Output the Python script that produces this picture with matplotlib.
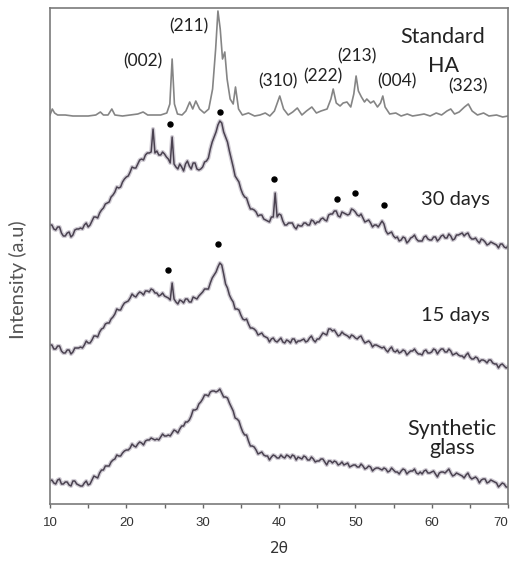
import numpy as np
import matplotlib
matplotlib.use("Agg")
import matplotlib.pyplot as plt

# ---------------- data (intensity in arbitrary units, stacked) ----------------
ha_theta = [10.0, 10.3, 10.6, 11, 12, 13, 14, 15, 16, 16.6, 17.0, 17.6, 18.1, 18.5, 19.5, 20.5, 21.5, 22.2, 22.8, 23.5,
            24.5, 25.3, 25.7, 26.0, 26.3, 26.7, 27.3, 27.8, 28.3, 28.7, 29.1, 29.6, 30.2, 30.8, 31.3, 31.7, 32.0, 32.3, 32.6, 32.9,
            33.2, 33.6, 34.0, 34.3, 34.7, 35.2, 36, 36.8, 37.5, 38.2, 38.8, 39.4, 40.1, 40.6, 41.2, 41.8, 42.4, 43.0, 43.6, 44.3,
            44.9, 45.5, 46.3, 46.8, 47.1, 47.5, 48.0, 48.4, 48.9, 49.4, 49.8, 50.1, 50.4, 50.8, 51.2, 51.5, 52.0, 52.4, 52.9, 53.3,
            53.6, 53.9, 54.5, 55.3, 56.0, 56.8, 57.5, 58.3, 59.0, 59.8, 60.6, 61.3, 62.0, 62.5, 63.0, 63.6, 64.3, 64.8, 65.3, 66.0,
            66.8, 67.5, 68.5, 69.3, 70.0]
ha_int = [389, 395, 391, 389, 389, 388, 388, 388, 389, 392, 389, 389, 395, 389, 388, 389, 390, 392, 389, 389,
          389, 391, 400, 445, 400, 390, 389, 393, 402, 395, 403, 395, 391, 395, 415, 455, 493, 475, 445, 452,
          425, 405, 400, 417, 395, 389, 391, 388, 389, 391, 388, 393, 408, 395, 389, 392, 396, 389, 393, 397,
          391, 393, 395, 405, 415, 401, 398, 401, 402, 397, 410, 428, 413, 407, 402, 405, 401, 403, 397, 401,
          408, 397, 390, 391, 388, 390, 388, 389, 390, 388, 391, 389, 393, 395, 390, 392, 397, 400, 393, 389,
          391, 388, 389, 387, 388]

# 30 days: readings at 10.0, 10.5, ... 70.0 and at 10.25, 10.75, ... 69.75
d30_int = [279, 275, 277, 271, 268, 272, 269, 275, 276, 279, 277, 283, 287, 291, 296, 301, 307, 312, 316, 322,
           327, 332, 336, 340, 345, 349, 351, 375, 353, 349, 350, 345, 367, 337, 340, 333, 343, 335, 341, 334,
           337, 343, 355, 367, 379, 381, 367, 353, 337, 325, 315, 307, 300, 295, 292, 289, 285, 283, 287, 311,
           290, 283, 279, 281, 277, 279, 278, 281, 279, 283, 282, 285, 284, 289, 290, 293, 287, 291, 289, 295,
           292, 288, 286, 283, 281, 279, 277, 283, 273, 271, 268, 267, 264, 266, 263, 267, 265, 263, 267, 265,
           264, 267, 265, 269, 266, 268, 265, 269, 271, 270, 267, 265, 263, 265, 262, 260, 261, 259, 260, 257,
           258]
d30_mid = [279, 274, 277, 268, 271, 267, 274, 275, 275, 281, 279, 287, 286, 294, 300, 302, 309, 317, 317, 325,
           328, 337, 336, 344, 344, 351, 352, 351, 349, 352, 347, 341, 340, 335, 337, 340, 338, 341, 335, 335,
           342, 346, 362, 372, 383, 372, 362, 345, 328, 322, 310, 306, 295, 294, 288, 289, 284, 282, 287, 287,
           289, 279, 281, 281, 275, 278, 281, 279, 284, 280, 282, 286, 283, 290, 293, 288, 292, 290, 290, 294,
           289, 290, 282, 284, 277, 279, 280, 280, 270, 272, 266, 263, 267, 261, 266, 269, 263, 263, 268, 264,
           267, 263, 268, 266, 270, 264, 269, 270, 268, 271, 265, 266, 261, 264, 259, 262, 260, 256, 260, 256]

# 15 days
d15_int = [159, 155, 158, 153, 151, 154, 152, 156, 157, 159, 161, 164, 168, 172, 176, 181, 185, 190, 194, 198,
           202, 206, 208, 210, 211, 213, 212, 214, 211, 209, 208, 206, 221, 202, 204, 201, 205, 202, 206, 208,
           212, 215, 221, 229, 237, 239, 220, 209, 202, 195, 189, 184, 180, 176, 173, 170, 168, 166, 165, 163,
           164, 162, 164, 161, 165, 163, 164, 162, 166, 164, 165, 168, 170, 175, 173, 171, 169, 170, 168, 169,
           166, 167, 164, 162, 161, 159, 158, 156, 154, 155, 153, 154, 152, 153, 151, 153, 152, 150, 153, 151,
           152, 154, 153, 155, 152, 153, 150, 149, 148, 149, 147, 145, 146, 144, 143, 144, 141, 140, 139, 138,
           137]
d15_mid = [159, 155, 158, 151, 154, 150, 156, 156, 156, 163, 161, 168, 167, 175, 180, 181, 187, 195, 194, 201,
           203, 210, 207, 212, 209, 213, 215, 211, 208, 211, 207, 204, 205, 200, 203, 205, 202, 207, 205, 210,
           215, 215, 226, 232, 241, 230, 216, 205, 195, 194, 185, 185, 176, 175, 169, 171, 167, 162, 166, 162,
           166, 161, 163, 165, 161, 163, 165, 163, 168, 162, 165, 171, 169, 175, 174, 168, 172, 169, 166, 168,
           165, 168, 161, 163, 157, 159, 157, 157, 152, 157, 152, 151, 154, 149, 153, 155, 150, 149, 154, 151,
           155, 150, 155, 152, 155, 149, 151, 148, 146, 151, 145, 147, 142, 144, 141, 144, 140, 136, 140, 136]

# Synthetic glass
glass_int = [23, 21, 24, 20, 22, 19, 23, 20, 18, 21, 19, 24, 27, 31, 34, 38, 42, 45, 48, 51,
             54, 56, 58, 60, 61, 63, 64, 65, 65, 67, 68, 69, 71, 73, 75, 78, 82, 88, 94, 100,
             105, 109, 112, 113, 113, 111, 107, 101, 93, 85, 77, 69, 63, 58, 54, 51, 49, 48, 47, 48,
             46, 47, 49, 46, 48, 47, 45, 47, 44, 45, 43, 45, 42, 43, 41, 42, 40, 39, 41, 38,
             39, 37, 38, 36, 37, 35, 36, 34, 35, 33, 34, 32, 33, 34, 32, 33, 31, 32, 33, 31,
             32, 30, 31, 32, 33, 31, 29, 30, 28, 29, 27, 26, 25, 24, 25, 22, 23, 21, 19, 20,
             17]
glass_mid = [24, 20, 25, 20, 22, 18, 23, 19, 18, 23, 20, 28, 26, 34, 38, 38, 44, 49, 48, 53,
             54, 60, 57, 62, 59, 64, 66, 64, 64, 70, 68, 68, 74, 71, 78, 82, 84, 94, 95, 102,
             109, 108, 113, 112, 115, 107, 106, 97, 86, 83, 72, 69, 58, 57, 50, 52, 48, 44, 49, 46,
             49, 46, 48, 49, 44, 46, 48, 44, 47, 42, 43, 45, 39, 43, 43, 39, 42, 40, 37, 39,
             37, 40, 35, 38, 33, 36, 35, 36, 32, 36, 32, 30, 35, 30, 33, 35, 30, 30, 34, 31,
             33, 27, 32, 31, 35, 28, 31, 29, 26, 31, 25, 27, 21, 25, 21, 24, 22, 17, 21, 17]

# HA reflection markers
dots30_theta = [25.7, 32.3, 39.3, 47.6, 50.0, 53.8]
dots30_int = [380, 392, 325, 305, 311, 299]
dots15_theta = [25.5, 32.0]
dots15_int = [234, 260]

hkl_labels = ["(002)", "(211)", "(310)", "(222)", "(213)", "(004)", "(323)"]
hkl_theta = [22.2, 28.2, 39.9, 45.8, 50.2, 55.5, 64.8]
hkl_int = [443, 478, 423, 428, 448, 423, 418]

x_ticks = [10, 20, 30, 40, 50, 60, 70]


def merge(main, mid):
    y = np.empty(len(main) + len(mid))
    y[0::2] = main
    y[1::2] = mid
    return np.linspace(10, 70, len(y)), y


# ---------------- plotting ----------------
W, H = 513, 561
fig = plt.figure(figsize=(W / 100, H / 100), dpi=100)
ax = fig.add_axes([50 / W, (H - 504) / H, 458 / W, 496 / H])

trace_col = "#4a4250"
ax.plot(ha_theta, ha_int, color="#858585", lw=1.2)
for main, mid in ((d30_int, d30_mid), (d15_int, d15_mid), (glass_int, glass_mid)):
    xs, ys = merge(main, mid)
    ax.plot(xs, ys, color="#9a90a2", lw=3.0, alpha=0.45)
    ax.plot(xs, ys, color=trace_col, lw=1.1)

ax.plot(dots30_theta, dots30_int, "o", color="black", ms=3.6)
ax.plot(dots15_theta, dots15_int, "o", color="black", ms=3.6)

lab_font = dict(family="Lato", color="#222222")
for t, x, y in zip(hkl_labels, hkl_theta, hkl_int):
    ax.text(x, y, t, ha="center", va="center", fontsize=12.5, **lab_font)

ax.text(61.5, 467, "Standard", ha="center", va="center", fontsize=15.5, **lab_font)
ax.text(61.5, 438, "HA", ha="center", va="center", fontsize=15.5, **lab_font)
ax.text(63.1, 305, "30 days", ha="center", va="center", fontsize=14.5, **lab_font)
ax.text(63.1, 188, "15 days", ha="center", va="center", fontsize=14.5, **lab_font)
ax.text(62.7, 75, "Synthetic", ha="center", va="center", fontsize=15.5, **lab_font)
ax.text(62.7, 56, "glass", ha="center", va="center", fontsize=15.5, **lab_font)

ax.set_xlim(10, 70)
ax.set_ylim(0, 496)
ax.set_xticks(x_ticks)
ax.set_xticks([15, 25, 35, 45, 55, 65], minor=True)
ax.set_yticks([])
ax.tick_params(axis="x", which="both", direction="out", length=3, width=1, colors="#666666",
               labelcolor="#333333", labelsize=9.5, pad=6)
for lbl in ax.get_xticklabels():
    lbl.set_family("Liberation Sans")
ax.get_xticklabels()[-1].set_ha("right")
for s in ax.spines.values():
    s.set_color("#7a7a7a")
    s.set_linewidth(1.2)

ax.set_xlabel("2θ", fontsize=11, color="#333333", labelpad=9, family="DejaVu Sans")
ax.set_ylabel("Intensity (a.u)", fontsize=14.5, color="#555555", family="Lato")
ax.yaxis.set_label_coords(-0.05, 0.452)

fig.savefig("out.png", dpi=100)
